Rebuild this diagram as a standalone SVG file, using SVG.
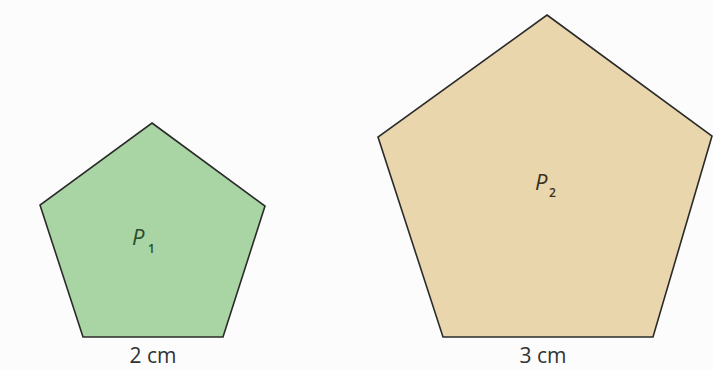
<svg xmlns="http://www.w3.org/2000/svg" width="713" height="370" viewBox="0 0 713 370">
<style>
.shape{stroke:#2b2b2b;stroke-width:1.6;stroke-linejoin:miter}
.lbl{font-family:"Open Sans","DejaVu Sans",sans-serif;font-size:21px;fill:#333;text-anchor:middle}
.p{font-family:"Open Sans","DejaVu Sans",sans-serif;font-style:italic;font-size:22px}
.sub{font-family:"Open Sans","DejaVu Sans",sans-serif;font-size:12px;font-weight:600}
</style>
<rect width="713" height="370" fill="#fcfcfc"/>
<g id="p1">
<polygon class="shape" fill="#a9d4a3" points="152,123 265,206 223,337 83,337 40,205"/>
<text class="p" x="132" y="245" fill="#2c4a2c">P</text>
<text class="sub" x="148" y="253" fill="#2c4a2c">1</text>
</g>
<g id="p2">
<polygon class="shape" fill="#e9d6ad" points="547,15 712,136 653,337 443,337 378,137"/>
<text class="p" x="535" y="190" fill="#3a3020">P</text>
<text class="sub" x="549" y="197" fill="#3a3020">2</text>
</g>
<g id="labels">
<text class="lbl" x="153" y="363">2 cm</text>
<text class="lbl" x="543" y="363">3 cm</text>
</g>
</svg>
